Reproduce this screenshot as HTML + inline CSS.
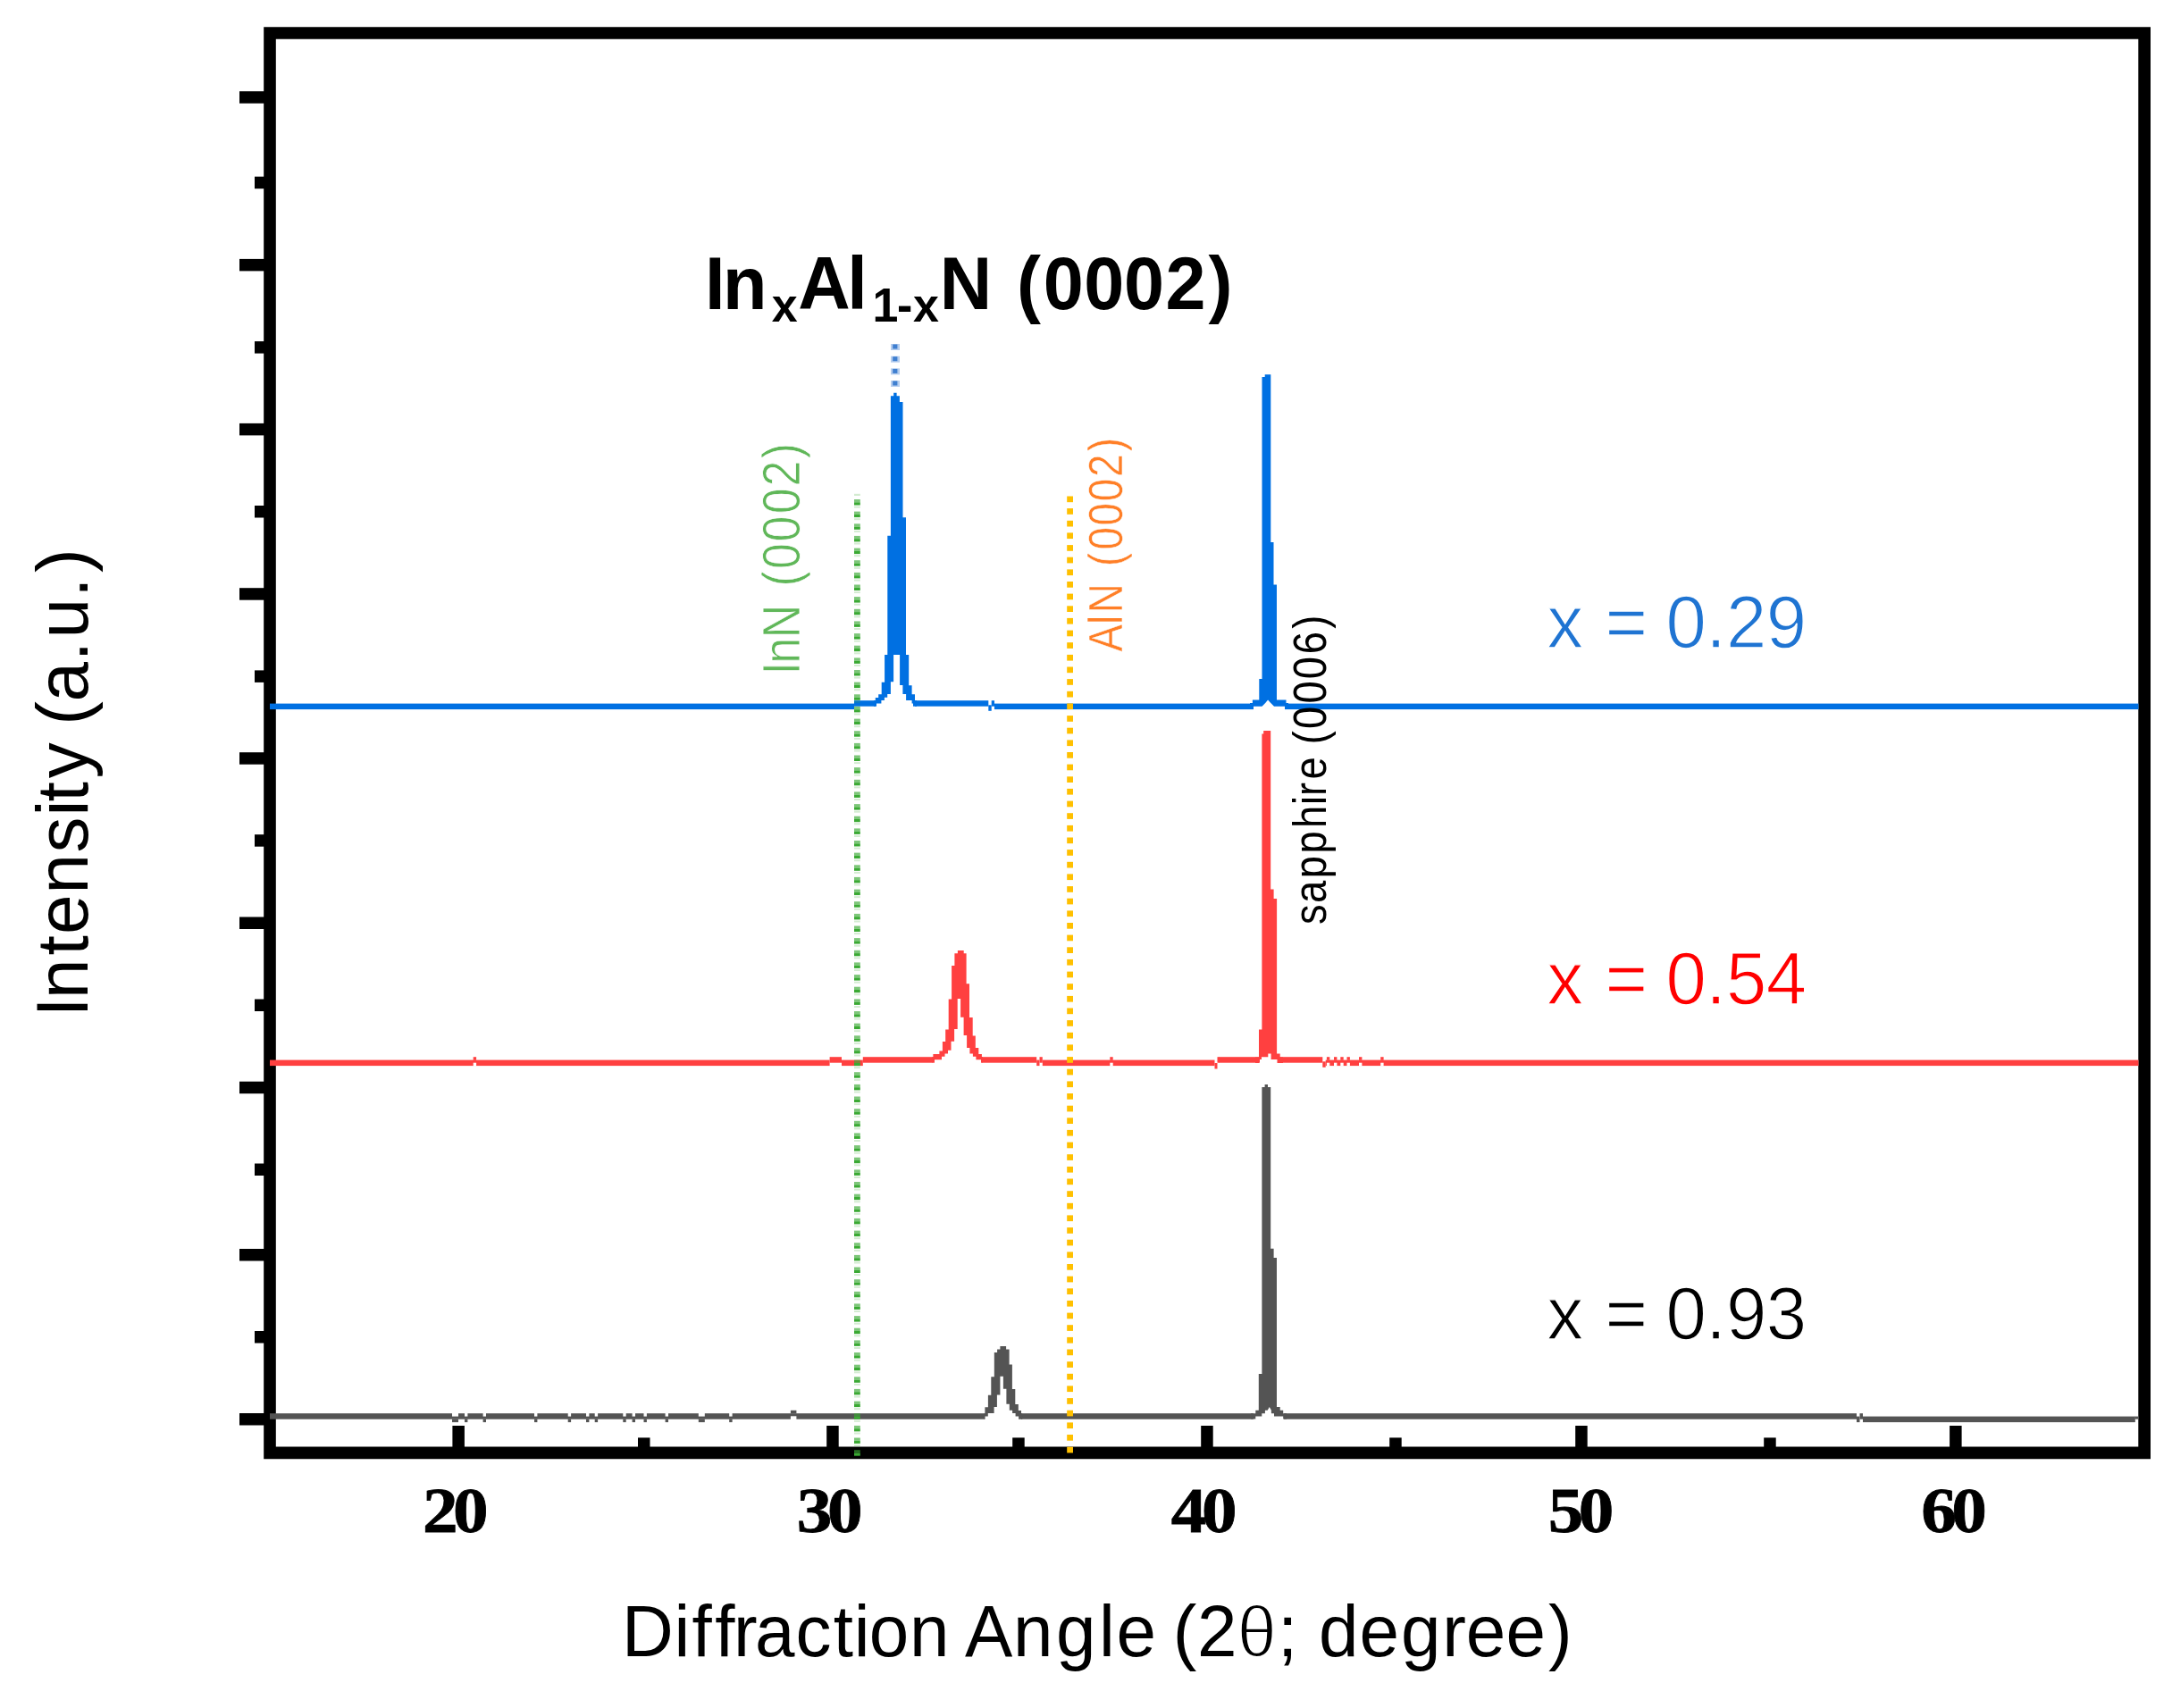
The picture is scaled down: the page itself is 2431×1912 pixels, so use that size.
<!DOCTYPE html>
<html lang="en">
<head>
<meta charset="utf-8">
<title>XRD patterns of InxAl1-xN films</title>
<style>
html,body{margin:0;padding:0;background:#fff;}
svg{display:block;}
</style>
</head>
<body>
<svg width="2431" height="1912" viewBox="0 0 2431 1912">
<rect x="0" y="0" width="2431" height="1912" fill="#fff"/>
<path fill="#000" fill-rule="evenodd" d="M295.2 30.2H2407V1633.3H295.2ZM308.8 43.8H2393.3V1619.6H308.8Z"/>
<rect x="268" y="102.2" width="28.2" height="13.5" fill="#000"/>
<rect x="285" y="197.7" width="11.2" height="13.5" fill="#000"/>
<rect x="268" y="289.9" width="28.2" height="13.5" fill="#000"/>
<rect x="285" y="382.1" width="11.2" height="13.5" fill="#000"/>
<rect x="268" y="473.9" width="28.2" height="13.5" fill="#000"/>
<rect x="285" y="566" width="11.2" height="13.5" fill="#000"/>
<rect x="268" y="658.2" width="28.2" height="13.5" fill="#000"/>
<rect x="285" y="750.4" width="11.2" height="13.5" fill="#000"/>
<rect x="268" y="842.2" width="28.2" height="13.5" fill="#000"/>
<rect x="285" y="934.2" width="11.2" height="13.5" fill="#000"/>
<rect x="268" y="1026.5" width="28.2" height="13.5" fill="#000"/>
<rect x="285" y="1118.5" width="11.2" height="13.5" fill="#000"/>
<rect x="268" y="1210.7" width="28.2" height="13.5" fill="#000"/>
<rect x="285" y="1302.5" width="11.2" height="13.5" fill="#000"/>
<rect x="268" y="1398" width="28.2" height="13.5" fill="#000"/>
<rect x="285" y="1490" width="11.2" height="13.5" fill="#000"/>
<rect x="268" y="1582" width="28.2" height="13.5" fill="#000"/>
<rect x="506.4" y="1596" width="13.5" height="24.6" fill="#000"/>
<rect x="714" y="1609.4" width="13.5" height="11.2" fill="#000"/>
<rect x="925.2" y="1596" width="13.5" height="24.6" fill="#000"/>
<rect x="1133.2" y="1609.4" width="13.5" height="11.2" fill="#000"/>
<rect x="1344.2" y="1596" width="13.5" height="24.6" fill="#000"/>
<rect x="1555.2" y="1609.4" width="13.5" height="11.2" fill="#000"/>
<rect x="1763.2" y="1596" width="13.5" height="24.6" fill="#000"/>
<rect x="1974.2" y="1609.4" width="13.5" height="11.2" fill="#000"/>
<rect x="2182.1" y="1596" width="13.5" height="24.6" fill="#000"/>
<rect x="302" y="1582.2" width="800.5" height="6.5" fill="#545454"/>
<rect x="1143" y="1582.2" width="260" height="6.5" fill="#545454"/>
<rect x="1437" y="1582.2" width="641" height="6.5" fill="#545454"/>
<rect x="2078" y="1585.6" width="3.5" height="6.5" fill="#545454"/>
<rect x="2081.5" y="1582.2" width="3.5" height="6.5" fill="#545454"/>
<rect x="2085" y="1585.6" width="304.8" height="6.5" fill="#545454"/>
<rect x="2389.5" y="1585.6" width="4" height="3" fill="#545454"/>
<rect x="506" y="1581.7" width="7" height="3.9" fill="#fff"/>
<rect x="506" y="1588.5" width="7" height="3.6" fill="#545454"/>
<rect x="520" y="1581.7" width="3.4" height="3.9" fill="#fff"/>
<rect x="520" y="1588.5" width="3.4" height="3.6" fill="#545454"/>
<rect x="540.6" y="1581.7" width="3.4" height="3.9" fill="#fff"/>
<rect x="540.6" y="1588.5" width="3.4" height="3.6" fill="#545454"/>
<rect x="598" y="1581.7" width="3.4" height="3.9" fill="#fff"/>
<rect x="598" y="1588.5" width="3.4" height="3.6" fill="#545454"/>
<rect x="635.7" y="1581.7" width="3.4" height="3.9" fill="#fff"/>
<rect x="635.7" y="1588.5" width="3.4" height="3.6" fill="#545454"/>
<rect x="656" y="1581.7" width="3.4" height="3.9" fill="#fff"/>
<rect x="656" y="1588.5" width="3.4" height="3.6" fill="#545454"/>
<rect x="665.7" y="1581.7" width="3.4" height="3.9" fill="#fff"/>
<rect x="665.7" y="1588.5" width="3.4" height="3.6" fill="#545454"/>
<rect x="697.3" y="1581.7" width="3.4" height="3.9" fill="#fff"/>
<rect x="697.3" y="1588.5" width="3.4" height="3.6" fill="#545454"/>
<rect x="707.6" y="1581.7" width="3.4" height="3.9" fill="#fff"/>
<rect x="707.6" y="1588.5" width="3.4" height="3.6" fill="#545454"/>
<rect x="720.5" y="1581.7" width="3.4" height="3.9" fill="#fff"/>
<rect x="720.5" y="1588.5" width="3.4" height="3.6" fill="#545454"/>
<rect x="744.6" y="1581.7" width="3.4" height="3.9" fill="#fff"/>
<rect x="744.6" y="1588.5" width="3.4" height="3.6" fill="#545454"/>
<rect x="781.8" y="1581.7" width="7" height="3.9" fill="#fff"/>
<rect x="781.8" y="1588.5" width="7" height="3.6" fill="#545454"/>
<rect x="816.2" y="1581.7" width="3.4" height="3.9" fill="#fff"/>
<rect x="816.2" y="1588.5" width="3.4" height="3.6" fill="#545454"/>
<rect x="884.9" y="1578.8" width="6.5" height="3.6" fill="#545454"/>
<rect x="884.9" y="1585.3" width="6.5" height="3.9" fill="#fff"/>
<polygon fill="#545454" points="1101.5,1588.7 1101.5,1582.3 1102.4,1582.3 1102.4,1575.2 1105.9,1575.2 1105.9,1561.8 1109.3,1561.8 1109.3,1541.3 1112.8,1541.3 1112.8,1514 1116.1,1514 1116.1,1510.6 1119.4,1510.6 1119.4,1507.1 1126.1,1507.1 1126.1,1510.6 1129.6,1510.6 1129.6,1527.6 1132.9,1527.6 1132.9,1555 1136.3,1555 1136.3,1572.1 1139.8,1572.1 1139.8,1579 1143,1579 1143,1582.3 1144.2,1582.3 1144.2,1588.7 1140.1,1588.7 1140.1,1585.4 1136.6,1585.4 1136.6,1581.9 1133.1,1581.9 1133.1,1578.8 1129.8,1578.8 1129.8,1571.7 1126.4,1571.7 1126.4,1554.8 1122.9,1554.8 1122.9,1540.7 1119.4,1540.7 1119.4,1561.4 1115.9,1561.4 1115.9,1574.9 1112.6,1574.9 1112.6,1581.9 1105.8,1581.9 1105.8,1585.4 1102.1,1585.4 1102.1,1588.7"/>
<polygon fill="#545454" points="1400,1588.6 1400,1582.2 1405.3,1582.2 1405.3,1578.7 1408.8,1578.7 1408.8,1537.9 1412.4,1537.9 1412.4,1217.1 1415.6,1217.1 1415.6,1213.9 1419,1213.9 1419,1217.1 1422.2,1217.1 1422.2,1397.8 1425.6,1397.8 1425.6,1408 1429,1408 1429,1574.9 1432.7,1574.9 1432.7,1578.7 1436.2,1578.7 1436.2,1582.2 1440,1582.2 1440,1588.6 1436.2,1588.6 1436.2,1585.4 1426,1585.4 1426,1582.2 1422.9,1582.2 1422.9,1578.7 1420.8,1574.9 1418.7,1578.7 1415.9,1578.7 1415.9,1582.2 1412.3,1582.2 1412.3,1585.4 1405.3,1585.4 1405.3,1588.6"/>
<rect x="302" y="1186.6" width="626.6" height="6.5" fill="#ff4040"/>
<rect x="928.6" y="1183.2" width="13.4" height="6.5" fill="#ff4040"/>
<rect x="942" y="1186.6" width="23.8" height="6.5" fill="#ff4040"/>
<rect x="965.8" y="1183.2" width="80.2" height="6.5" fill="#ff4040"/>
<rect x="1098" y="1183.2" width="62.2" height="6.5" fill="#ff4040"/>
<rect x="1160.2" y="1186.6" width="3.3" height="6.5" fill="#ff4040"/>
<rect x="1163.5" y="1183.2" width="3.3" height="6.5" fill="#ff4040"/>
<rect x="1166.8" y="1186.6" width="192.7" height="6.5" fill="#ff4040"/>
<rect x="1359.5" y="1190" width="3" height="6.5" fill="#ff4040"/>
<rect x="1362.5" y="1183.2" width="2.5" height="6.5" fill="#ff4040"/>
<rect x="1364.5" y="1183.2" width="45.5" height="6.5" fill="#ff4040"/>
<rect x="1431" y="1183.2" width="49.3" height="6.5" fill="#ff4040"/>
<rect x="1480.3" y="1188.3" width="3.4" height="6.5" fill="#ff4040"/>
<rect x="1483.7" y="1186.6" width="909.8" height="6.5" fill="#ff4040"/>
<rect x="529.7" y="1183.2" width="3.4" height="3.6" fill="#ff4040"/>
<rect x="529.7" y="1189.7" width="3.4" height="3.9" fill="#fff"/>
<rect x="1242.3" y="1183.2" width="3.4" height="3.6" fill="#ff4040"/>
<rect x="1242.3" y="1189.7" width="3.4" height="3.9" fill="#fff"/>
<rect x="1484.9" y="1183.2" width="3.4" height="3.6" fill="#ff4040"/>
<rect x="1484.9" y="1189.7" width="3.4" height="3.9" fill="#fff"/>
<rect x="1493" y="1183.2" width="3.4" height="3.6" fill="#ff4040"/>
<rect x="1493" y="1189.7" width="3.4" height="3.9" fill="#fff"/>
<rect x="1500.3" y="1183.2" width="3.4" height="3.6" fill="#ff4040"/>
<rect x="1500.3" y="1189.7" width="3.4" height="3.9" fill="#fff"/>
<rect x="1507.5" y="1183.2" width="3.4" height="3.6" fill="#ff4040"/>
<rect x="1507.5" y="1189.7" width="3.4" height="3.9" fill="#fff"/>
<rect x="1521" y="1183.2" width="3.4" height="3.6" fill="#ff4040"/>
<rect x="1521" y="1189.7" width="3.4" height="3.9" fill="#fff"/>
<rect x="1545.2" y="1183.2" width="3.4" height="3.6" fill="#ff4040"/>
<rect x="1545.2" y="1189.7" width="3.4" height="3.9" fill="#fff"/>
<polygon fill="#ff4040" points="1043.2,1189.6 1043.2,1183.2 1044.4,1183.2 1044.4,1179.9 1051.4,1179.9 1051.4,1176.4 1054.9,1176.4 1054.9,1166.1 1058.2,1166.1 1058.2,1152.4 1061.7,1152.4 1061.7,1118.4 1065.1,1118.4 1065.1,1080.9 1068.4,1080.9 1068.4,1067.2 1071.9,1067.2 1071.9,1064 1078.7,1064 1078.7,1067.2 1081.6,1067.2 1081.6,1101.2 1085,1101.2 1085,1138.9 1088.7,1138.9 1088.7,1159.4 1091.8,1159.4 1091.8,1173.1 1095.3,1173.1 1095.3,1179.9 1098.9,1179.9 1098.9,1183.2 1100,1183.2 1100,1189.6 1099.2,1189.6 1099.2,1186.3 1092.4,1186.3 1092.4,1182.8 1088.9,1182.8 1088.9,1179.6 1085.4,1179.6 1085.4,1172.9 1082.1,1172.9 1082.1,1159 1078.6,1159 1078.6,1138.7 1075.1,1138.7 1075.1,1118.1 1071.7,1118.1 1071.7,1152 1068.1,1152 1068.1,1165.8 1064.5,1165.8 1064.5,1175.8 1061,1175.8 1061,1179.6 1057.5,1179.6 1057.5,1182.8 1054,1182.8 1054,1186.3 1044.2,1186.3 1044.2,1189.6"/>
<polygon fill="#ff4040" points="1405,1189.9 1405,1183.4 1409,1183.4 1409,1152.4 1412.4,1152.4 1412.4,821.5 1414.2,821.5 1414.2,818 1422.2,818 1422.2,995.4 1425.6,995.4 1425.6,1006.1 1429.1,1006.1 1429.1,1179.5 1432.7,1179.5 1432.7,1183.4 1436,1183.4 1436,1189.9 1429.5,1189.9 1429.5,1186.1 1422.6,1186.1 1422.6,1179.5 1419.3,1179.5 1419.3,1183.2 1412,1183.2 1412,1186.1 1409,1186.1 1409,1189.9"/>
<rect x="302" y="787.6" width="654" height="6.5" fill="#0070e2"/>
<rect x="956" y="784.2" width="25" height="6.5" fill="#0070e2"/>
<rect x="1022" y="784.2" width="84.3" height="6.5" fill="#0070e2"/>
<rect x="1106.3" y="789.3" width="3.4" height="6.5" fill="#0070e2"/>
<rect x="1109.7" y="784.2" width="3.3" height="6.5" fill="#0070e2"/>
<rect x="1113" y="787.6" width="290" height="6.5" fill="#0070e2"/>
<rect x="1438" y="787.6" width="955.5" height="6.5" fill="#0070e2"/>
<polygon fill="#0070e2" points="978,790.7 978,784.1 979.8,784.1 979.8,780.9 983.2,780.9 983.2,777.2 986.7,777.2 986.7,763.8 990.1,763.8 990.1,733 993.3,733 993.3,599.8 996.9,599.8 996.9,443.3 1000.2,443.3 1000.2,439.7 1003.6,439.7 1003.6,443.3 1006.9,443.3 1006.9,450 1010.5,450 1010.5,579.3 1014,579.3 1014,733 1017.2,733 1017.2,767.2 1020.6,767.2 1020.6,777.2 1024,777.2 1024,784.1 1026,784.1 1026,790.7 1024,790.7 1024,787.4 1020.6,787.4 1020.6,783.9 1014.1,783.9 1014.1,777 1010.4,777 1010.4,767 1007.1,767 1007.1,733 1000.1,733 1000.1,763.3 996.9,763.3 996.9,777 993.2,777 993.2,780.7 989.9,780.7 989.9,784.1 986.4,784.1 986.4,787.4 979.8,787.4 979.8,790.7"/>
<polygon fill="#0070e2" points="1399,793.5 1399,787.1 1401.9,787.1 1401.9,783.4 1409.3,783.4 1409.3,760 1412.5,760 1412.5,422.1 1415.7,422.1 1415.7,419.2 1422.3,419.2 1422.3,606.9 1425.5,606.9 1425.5,654.4 1429,654.4 1429,783.4 1439.5,783.4 1439.5,787.1 1442,787.1 1442,793.5 1439.5,793.5 1439.5,790.8 1426,790.8 1422.3,787.1 1419.1,783.4 1416.2,787.1 1412.5,790.8 1401.9,790.8 1401.9,793.5"/>
<rect x="956" y="559" width="6.8" height="3.3" fill="#3aa933" fill-opacity="0.66"/>
<rect x="956" y="562.3" width="6.8" height="3.2" fill="#3aa933"/>
<rect x="956" y="566.6" width="6.8" height="2" fill="#3aa933" fill-opacity="0.22"/>
<rect x="956" y="572.6" width="6.8" height="3.3" fill="#3aa933" fill-opacity="0.66"/>
<rect x="956" y="575.9" width="6.8" height="3.2" fill="#3aa933"/>
<rect x="956" y="580.2" width="6.8" height="2" fill="#3aa933" fill-opacity="0.22"/>
<rect x="956" y="586.3" width="6.8" height="3.3" fill="#3aa933" fill-opacity="0.66"/>
<rect x="956" y="589.6" width="6.8" height="3.2" fill="#3aa933"/>
<rect x="956" y="593.9" width="6.8" height="2" fill="#3aa933" fill-opacity="0.22"/>
<rect x="956" y="599.9" width="6.8" height="3.3" fill="#3aa933" fill-opacity="0.66"/>
<rect x="956" y="603.2" width="6.8" height="3.2" fill="#3aa933"/>
<rect x="956" y="607.5" width="6.8" height="2" fill="#3aa933" fill-opacity="0.22"/>
<rect x="956" y="613.6" width="6.8" height="3.3" fill="#3aa933" fill-opacity="0.66"/>
<rect x="956" y="616.9" width="6.8" height="3.2" fill="#3aa933"/>
<rect x="956" y="621.2" width="6.8" height="2" fill="#3aa933" fill-opacity="0.22"/>
<rect x="956" y="627.2" width="6.8" height="3.3" fill="#3aa933" fill-opacity="0.66"/>
<rect x="956" y="630.5" width="6.8" height="3.2" fill="#3aa933"/>
<rect x="956" y="634.8" width="6.8" height="2" fill="#3aa933" fill-opacity="0.22"/>
<rect x="956" y="640.9" width="6.8" height="3.3" fill="#3aa933" fill-opacity="0.66"/>
<rect x="956" y="644.2" width="6.8" height="3.2" fill="#3aa933"/>
<rect x="956" y="648.5" width="6.8" height="2" fill="#3aa933" fill-opacity="0.22"/>
<rect x="956" y="654.5" width="6.8" height="3.3" fill="#3aa933" fill-opacity="0.66"/>
<rect x="956" y="657.8" width="6.8" height="3.2" fill="#3aa933"/>
<rect x="956" y="662.1" width="6.8" height="2" fill="#3aa933" fill-opacity="0.22"/>
<rect x="956" y="668.1" width="6.8" height="3.3" fill="#3aa933" fill-opacity="0.66"/>
<rect x="956" y="671.4" width="6.8" height="3.2" fill="#3aa933"/>
<rect x="956" y="675.7" width="6.8" height="2" fill="#3aa933" fill-opacity="0.22"/>
<rect x="956" y="681.8" width="6.8" height="3.3" fill="#3aa933" fill-opacity="0.66"/>
<rect x="956" y="685.1" width="6.8" height="3.2" fill="#3aa933"/>
<rect x="956" y="689.4" width="6.8" height="2" fill="#3aa933" fill-opacity="0.22"/>
<rect x="956" y="695.4" width="6.8" height="3.3" fill="#3aa933" fill-opacity="0.66"/>
<rect x="956" y="698.7" width="6.8" height="3.2" fill="#3aa933"/>
<rect x="956" y="703" width="6.8" height="2" fill="#3aa933" fill-opacity="0.22"/>
<rect x="956" y="709.1" width="6.8" height="3.3" fill="#3aa933" fill-opacity="0.66"/>
<rect x="956" y="712.4" width="6.8" height="3.2" fill="#3aa933"/>
<rect x="956" y="716.7" width="6.8" height="2" fill="#3aa933" fill-opacity="0.22"/>
<rect x="956" y="722.7" width="6.8" height="3.3" fill="#3aa933" fill-opacity="0.66"/>
<rect x="956" y="726" width="6.8" height="3.2" fill="#3aa933"/>
<rect x="956" y="730.3" width="6.8" height="2" fill="#3aa933" fill-opacity="0.22"/>
<rect x="956" y="736.4" width="6.8" height="3.3" fill="#3aa933" fill-opacity="0.66"/>
<rect x="956" y="739.7" width="6.8" height="3.2" fill="#3aa933"/>
<rect x="956" y="744" width="6.8" height="2" fill="#3aa933" fill-opacity="0.22"/>
<rect x="956" y="750" width="6.8" height="3.3" fill="#3aa933" fill-opacity="0.66"/>
<rect x="956" y="753.3" width="6.8" height="3.2" fill="#3aa933"/>
<rect x="956" y="757.6" width="6.8" height="2" fill="#3aa933" fill-opacity="0.22"/>
<rect x="956" y="763.6" width="6.8" height="3.3" fill="#3aa933" fill-opacity="0.66"/>
<rect x="956" y="766.9" width="6.8" height="3.2" fill="#3aa933"/>
<rect x="956" y="771.2" width="6.8" height="2" fill="#3aa933" fill-opacity="0.22"/>
<rect x="956" y="777.3" width="6.8" height="3.3" fill="#3aa933" fill-opacity="0.66"/>
<rect x="956" y="780.6" width="6.8" height="3.2" fill="#3aa933"/>
<rect x="956" y="784.9" width="6.8" height="2" fill="#3aa933" fill-opacity="0.22"/>
<rect x="956" y="790.9" width="6.8" height="3.3" fill="#3aa933" fill-opacity="0.66"/>
<rect x="956" y="794.2" width="6.8" height="3.2" fill="#3aa933"/>
<rect x="956" y="798.5" width="6.8" height="2" fill="#3aa933" fill-opacity="0.22"/>
<rect x="956" y="804.6" width="6.8" height="3.3" fill="#3aa933" fill-opacity="0.66"/>
<rect x="956" y="807.9" width="6.8" height="3.2" fill="#3aa933"/>
<rect x="956" y="812.2" width="6.8" height="2" fill="#3aa933" fill-opacity="0.22"/>
<rect x="956" y="818.2" width="6.8" height="3.3" fill="#3aa933" fill-opacity="0.66"/>
<rect x="956" y="821.5" width="6.8" height="3.2" fill="#3aa933"/>
<rect x="956" y="825.8" width="6.8" height="2" fill="#3aa933" fill-opacity="0.22"/>
<rect x="956" y="831.9" width="6.8" height="3.3" fill="#3aa933" fill-opacity="0.66"/>
<rect x="956" y="835.2" width="6.8" height="3.2" fill="#3aa933"/>
<rect x="956" y="839.5" width="6.8" height="2" fill="#3aa933" fill-opacity="0.22"/>
<rect x="956" y="845.5" width="6.8" height="3.3" fill="#3aa933" fill-opacity="0.66"/>
<rect x="956" y="848.8" width="6.8" height="3.2" fill="#3aa933"/>
<rect x="956" y="853.1" width="6.8" height="2" fill="#3aa933" fill-opacity="0.22"/>
<rect x="956" y="859.1" width="6.8" height="3.3" fill="#3aa933" fill-opacity="0.66"/>
<rect x="956" y="862.4" width="6.8" height="3.2" fill="#3aa933"/>
<rect x="956" y="866.7" width="6.8" height="2" fill="#3aa933" fill-opacity="0.22"/>
<rect x="956" y="872.8" width="6.8" height="3.3" fill="#3aa933" fill-opacity="0.66"/>
<rect x="956" y="876.1" width="6.8" height="3.2" fill="#3aa933"/>
<rect x="956" y="880.4" width="6.8" height="2" fill="#3aa933" fill-opacity="0.22"/>
<rect x="956" y="886.4" width="6.8" height="3.3" fill="#3aa933" fill-opacity="0.66"/>
<rect x="956" y="889.7" width="6.8" height="3.2" fill="#3aa933"/>
<rect x="956" y="894" width="6.8" height="2" fill="#3aa933" fill-opacity="0.22"/>
<rect x="956" y="900.1" width="6.8" height="3.3" fill="#3aa933" fill-opacity="0.66"/>
<rect x="956" y="903.4" width="6.8" height="3.2" fill="#3aa933"/>
<rect x="956" y="907.7" width="6.8" height="2" fill="#3aa933" fill-opacity="0.22"/>
<rect x="956" y="913.7" width="6.8" height="3.3" fill="#3aa933" fill-opacity="0.66"/>
<rect x="956" y="917" width="6.8" height="3.2" fill="#3aa933"/>
<rect x="956" y="921.3" width="6.8" height="2" fill="#3aa933" fill-opacity="0.22"/>
<rect x="956" y="927.4" width="6.8" height="3.3" fill="#3aa933" fill-opacity="0.66"/>
<rect x="956" y="930.7" width="6.8" height="3.2" fill="#3aa933"/>
<rect x="956" y="935" width="6.8" height="2" fill="#3aa933" fill-opacity="0.22"/>
<rect x="956" y="941" width="6.8" height="3.3" fill="#3aa933" fill-opacity="0.66"/>
<rect x="956" y="944.3" width="6.8" height="3.2" fill="#3aa933"/>
<rect x="956" y="948.6" width="6.8" height="2" fill="#3aa933" fill-opacity="0.22"/>
<rect x="956" y="954.6" width="6.8" height="3.3" fill="#3aa933" fill-opacity="0.66"/>
<rect x="956" y="957.9" width="6.8" height="3.2" fill="#3aa933"/>
<rect x="956" y="962.2" width="6.8" height="2" fill="#3aa933" fill-opacity="0.22"/>
<rect x="956" y="968.3" width="6.8" height="3.3" fill="#3aa933" fill-opacity="0.66"/>
<rect x="956" y="971.6" width="6.8" height="3.2" fill="#3aa933"/>
<rect x="956" y="975.9" width="6.8" height="2" fill="#3aa933" fill-opacity="0.22"/>
<rect x="956" y="981.9" width="6.8" height="3.3" fill="#3aa933" fill-opacity="0.66"/>
<rect x="956" y="985.2" width="6.8" height="3.2" fill="#3aa933"/>
<rect x="956" y="989.5" width="6.8" height="2" fill="#3aa933" fill-opacity="0.22"/>
<rect x="956" y="995.6" width="6.8" height="3.3" fill="#3aa933" fill-opacity="0.66"/>
<rect x="956" y="998.9" width="6.8" height="3.2" fill="#3aa933"/>
<rect x="956" y="1003.2" width="6.8" height="2" fill="#3aa933" fill-opacity="0.22"/>
<rect x="956" y="1009.2" width="6.8" height="3.3" fill="#3aa933" fill-opacity="0.66"/>
<rect x="956" y="1012.5" width="6.8" height="3.2" fill="#3aa933"/>
<rect x="956" y="1016.8" width="6.8" height="2" fill="#3aa933" fill-opacity="0.22"/>
<rect x="956" y="1022.9" width="6.8" height="3.3" fill="#3aa933" fill-opacity="0.66"/>
<rect x="956" y="1026.2" width="6.8" height="3.2" fill="#3aa933"/>
<rect x="956" y="1030.5" width="6.8" height="2" fill="#3aa933" fill-opacity="0.22"/>
<rect x="956" y="1036.5" width="6.8" height="3.3" fill="#3aa933" fill-opacity="0.66"/>
<rect x="956" y="1039.8" width="6.8" height="3.2" fill="#3aa933"/>
<rect x="956" y="1044.1" width="6.8" height="2" fill="#3aa933" fill-opacity="0.22"/>
<rect x="956" y="1050.1" width="6.8" height="3.3" fill="#3aa933" fill-opacity="0.66"/>
<rect x="956" y="1053.4" width="6.8" height="3.2" fill="#3aa933"/>
<rect x="956" y="1057.7" width="6.8" height="2" fill="#3aa933" fill-opacity="0.22"/>
<rect x="956" y="1063.8" width="6.8" height="3.3" fill="#3aa933" fill-opacity="0.66"/>
<rect x="956" y="1067.1" width="6.8" height="3.2" fill="#3aa933"/>
<rect x="956" y="1071.4" width="6.8" height="2" fill="#3aa933" fill-opacity="0.22"/>
<rect x="956" y="1077.4" width="6.8" height="3.3" fill="#3aa933" fill-opacity="0.66"/>
<rect x="956" y="1080.7" width="6.8" height="3.2" fill="#3aa933"/>
<rect x="956" y="1085" width="6.8" height="2" fill="#3aa933" fill-opacity="0.22"/>
<rect x="956" y="1091.1" width="6.8" height="3.3" fill="#3aa933" fill-opacity="0.66"/>
<rect x="956" y="1094.4" width="6.8" height="3.2" fill="#3aa933"/>
<rect x="956" y="1098.7" width="6.8" height="2" fill="#3aa933" fill-opacity="0.22"/>
<rect x="956" y="1104.7" width="6.8" height="3.3" fill="#3aa933" fill-opacity="0.66"/>
<rect x="956" y="1108" width="6.8" height="3.2" fill="#3aa933"/>
<rect x="956" y="1112.3" width="6.8" height="2" fill="#3aa933" fill-opacity="0.22"/>
<rect x="956" y="1118.4" width="6.8" height="3.3" fill="#3aa933" fill-opacity="0.66"/>
<rect x="956" y="1121.7" width="6.8" height="3.2" fill="#3aa933"/>
<rect x="956" y="1126" width="6.8" height="2" fill="#3aa933" fill-opacity="0.22"/>
<rect x="956" y="1132" width="6.8" height="3.3" fill="#3aa933" fill-opacity="0.66"/>
<rect x="956" y="1135.3" width="6.8" height="3.2" fill="#3aa933"/>
<rect x="956" y="1139.6" width="6.8" height="2" fill="#3aa933" fill-opacity="0.22"/>
<rect x="956" y="1145.6" width="6.8" height="3.3" fill="#3aa933" fill-opacity="0.66"/>
<rect x="956" y="1148.9" width="6.8" height="3.2" fill="#3aa933"/>
<rect x="956" y="1153.2" width="6.8" height="2" fill="#3aa933" fill-opacity="0.22"/>
<rect x="956" y="1159.3" width="6.8" height="3.3" fill="#3aa933" fill-opacity="0.66"/>
<rect x="956" y="1162.6" width="6.8" height="3.2" fill="#3aa933"/>
<rect x="956" y="1166.9" width="6.8" height="2" fill="#3aa933" fill-opacity="0.22"/>
<rect x="956" y="1172.9" width="6.8" height="3.3" fill="#3aa933" fill-opacity="0.66"/>
<rect x="956" y="1176.2" width="6.8" height="3.2" fill="#3aa933"/>
<rect x="956" y="1180.5" width="6.8" height="2" fill="#3aa933" fill-opacity="0.22"/>
<rect x="956" y="1186.6" width="6.8" height="3.3" fill="#3aa933" fill-opacity="0.66"/>
<rect x="956" y="1189.9" width="6.8" height="3.2" fill="#3aa933"/>
<rect x="956" y="1194.2" width="6.8" height="2" fill="#3aa933" fill-opacity="0.22"/>
<rect x="956" y="1200.2" width="6.8" height="3.3" fill="#3aa933" fill-opacity="0.66"/>
<rect x="956" y="1203.5" width="6.8" height="3.2" fill="#3aa933"/>
<rect x="956" y="1207.8" width="6.8" height="2" fill="#3aa933" fill-opacity="0.22"/>
<rect x="956" y="1213.9" width="6.8" height="3.3" fill="#3aa933" fill-opacity="0.66"/>
<rect x="956" y="1217.2" width="6.8" height="3.2" fill="#3aa933"/>
<rect x="956" y="1221.5" width="6.8" height="2" fill="#3aa933" fill-opacity="0.22"/>
<rect x="956" y="1227.5" width="6.8" height="3.3" fill="#3aa933" fill-opacity="0.66"/>
<rect x="956" y="1230.8" width="6.8" height="3.2" fill="#3aa933"/>
<rect x="956" y="1235.1" width="6.8" height="2" fill="#3aa933" fill-opacity="0.22"/>
<rect x="956" y="1241.2" width="6.8" height="3.3" fill="#3aa933" fill-opacity="0.66"/>
<rect x="956" y="1244.5" width="6.8" height="3.2" fill="#3aa933"/>
<rect x="956" y="1248.8" width="6.8" height="2" fill="#3aa933" fill-opacity="0.22"/>
<rect x="956" y="1254.8" width="6.8" height="3.3" fill="#3aa933" fill-opacity="0.66"/>
<rect x="956" y="1258.1" width="6.8" height="3.2" fill="#3aa933"/>
<rect x="956" y="1262.4" width="6.8" height="2" fill="#3aa933" fill-opacity="0.22"/>
<rect x="956" y="1268.4" width="6.8" height="3.3" fill="#3aa933" fill-opacity="0.66"/>
<rect x="956" y="1271.7" width="6.8" height="3.2" fill="#3aa933"/>
<rect x="956" y="1276" width="6.8" height="2" fill="#3aa933" fill-opacity="0.22"/>
<rect x="956" y="1282.1" width="6.8" height="3.3" fill="#3aa933" fill-opacity="0.66"/>
<rect x="956" y="1285.4" width="6.8" height="3.2" fill="#3aa933"/>
<rect x="956" y="1289.7" width="6.8" height="2" fill="#3aa933" fill-opacity="0.22"/>
<rect x="956" y="1295.7" width="6.8" height="3.3" fill="#3aa933" fill-opacity="0.66"/>
<rect x="956" y="1299" width="6.8" height="3.2" fill="#3aa933"/>
<rect x="956" y="1303.3" width="6.8" height="2" fill="#3aa933" fill-opacity="0.22"/>
<rect x="956" y="1309.4" width="6.8" height="3.3" fill="#3aa933" fill-opacity="0.66"/>
<rect x="956" y="1312.7" width="6.8" height="3.2" fill="#3aa933"/>
<rect x="956" y="1317" width="6.8" height="2" fill="#3aa933" fill-opacity="0.22"/>
<rect x="956" y="1323" width="6.8" height="3.3" fill="#3aa933" fill-opacity="0.66"/>
<rect x="956" y="1326.3" width="6.8" height="3.2" fill="#3aa933"/>
<rect x="956" y="1330.6" width="6.8" height="2" fill="#3aa933" fill-opacity="0.22"/>
<rect x="956" y="1336.7" width="6.8" height="3.3" fill="#3aa933" fill-opacity="0.66"/>
<rect x="956" y="1340" width="6.8" height="3.2" fill="#3aa933"/>
<rect x="956" y="1344.3" width="6.8" height="2" fill="#3aa933" fill-opacity="0.22"/>
<rect x="956" y="1350.3" width="6.8" height="3.3" fill="#3aa933" fill-opacity="0.66"/>
<rect x="956" y="1353.6" width="6.8" height="3.2" fill="#3aa933"/>
<rect x="956" y="1357.9" width="6.8" height="2" fill="#3aa933" fill-opacity="0.22"/>
<rect x="956" y="1363.9" width="6.8" height="3.3" fill="#3aa933" fill-opacity="0.66"/>
<rect x="956" y="1367.2" width="6.8" height="3.2" fill="#3aa933"/>
<rect x="956" y="1371.5" width="6.8" height="2" fill="#3aa933" fill-opacity="0.22"/>
<rect x="956" y="1377.6" width="6.8" height="3.3" fill="#3aa933" fill-opacity="0.66"/>
<rect x="956" y="1380.9" width="6.8" height="3.2" fill="#3aa933"/>
<rect x="956" y="1385.2" width="6.8" height="2" fill="#3aa933" fill-opacity="0.22"/>
<rect x="956" y="1391.2" width="6.8" height="3.3" fill="#3aa933" fill-opacity="0.66"/>
<rect x="956" y="1394.5" width="6.8" height="3.2" fill="#3aa933"/>
<rect x="956" y="1398.8" width="6.8" height="2" fill="#3aa933" fill-opacity="0.22"/>
<rect x="956" y="1404.9" width="6.8" height="3.3" fill="#3aa933" fill-opacity="0.66"/>
<rect x="956" y="1408.2" width="6.8" height="3.2" fill="#3aa933"/>
<rect x="956" y="1412.5" width="6.8" height="2" fill="#3aa933" fill-opacity="0.22"/>
<rect x="956" y="1418.5" width="6.8" height="3.3" fill="#3aa933" fill-opacity="0.66"/>
<rect x="956" y="1421.8" width="6.8" height="3.2" fill="#3aa933"/>
<rect x="956" y="1426.1" width="6.8" height="2" fill="#3aa933" fill-opacity="0.22"/>
<rect x="956" y="1432.2" width="6.8" height="3.3" fill="#3aa933" fill-opacity="0.66"/>
<rect x="956" y="1435.5" width="6.8" height="3.2" fill="#3aa933"/>
<rect x="956" y="1439.8" width="6.8" height="2" fill="#3aa933" fill-opacity="0.22"/>
<rect x="956" y="1445.8" width="6.8" height="3.3" fill="#3aa933" fill-opacity="0.66"/>
<rect x="956" y="1449.1" width="6.8" height="3.2" fill="#3aa933"/>
<rect x="956" y="1453.4" width="6.8" height="2" fill="#3aa933" fill-opacity="0.22"/>
<rect x="956" y="1459.4" width="6.8" height="3.3" fill="#3aa933" fill-opacity="0.66"/>
<rect x="956" y="1462.7" width="6.8" height="3.2" fill="#3aa933"/>
<rect x="956" y="1467" width="6.8" height="2" fill="#3aa933" fill-opacity="0.22"/>
<rect x="956" y="1473.1" width="6.8" height="3.3" fill="#3aa933" fill-opacity="0.66"/>
<rect x="956" y="1476.4" width="6.8" height="3.2" fill="#3aa933"/>
<rect x="956" y="1480.7" width="6.8" height="2" fill="#3aa933" fill-opacity="0.22"/>
<rect x="956" y="1486.7" width="6.8" height="3.3" fill="#3aa933" fill-opacity="0.66"/>
<rect x="956" y="1490" width="6.8" height="3.2" fill="#3aa933"/>
<rect x="956" y="1494.3" width="6.8" height="2" fill="#3aa933" fill-opacity="0.22"/>
<rect x="956" y="1500.4" width="6.8" height="3.3" fill="#3aa933" fill-opacity="0.66"/>
<rect x="956" y="1503.7" width="6.8" height="3.2" fill="#3aa933"/>
<rect x="956" y="1508" width="6.8" height="2" fill="#3aa933" fill-opacity="0.22"/>
<rect x="956" y="1514" width="6.8" height="3.3" fill="#3aa933" fill-opacity="0.66"/>
<rect x="956" y="1517.3" width="6.8" height="3.2" fill="#3aa933"/>
<rect x="956" y="1521.6" width="6.8" height="2" fill="#3aa933" fill-opacity="0.22"/>
<rect x="956" y="1527.7" width="6.8" height="3.3" fill="#3aa933" fill-opacity="0.66"/>
<rect x="956" y="1531" width="6.8" height="3.2" fill="#3aa933"/>
<rect x="956" y="1535.3" width="6.8" height="2" fill="#3aa933" fill-opacity="0.22"/>
<rect x="956" y="1541.3" width="6.8" height="3.3" fill="#3aa933" fill-opacity="0.66"/>
<rect x="956" y="1544.6" width="6.8" height="3.2" fill="#3aa933"/>
<rect x="956" y="1548.9" width="6.8" height="2" fill="#3aa933" fill-opacity="0.22"/>
<rect x="956" y="1554.9" width="6.8" height="3.3" fill="#3aa933" fill-opacity="0.66"/>
<rect x="956" y="1558.2" width="6.8" height="3.2" fill="#3aa933"/>
<rect x="956" y="1562.5" width="6.8" height="2" fill="#3aa933" fill-opacity="0.22"/>
<rect x="956" y="1568.6" width="6.8" height="3.3" fill="#3aa933" fill-opacity="0.66"/>
<rect x="956" y="1571.9" width="6.8" height="3.2" fill="#3aa933"/>
<rect x="956" y="1576.2" width="6.8" height="2" fill="#3aa933" fill-opacity="0.22"/>
<rect x="956" y="1582.2" width="6.8" height="3.3" fill="#3aa933" fill-opacity="0.66"/>
<rect x="956" y="1585.5" width="6.8" height="3.2" fill="#3aa933"/>
<rect x="956" y="1589.8" width="6.8" height="2" fill="#3aa933" fill-opacity="0.22"/>
<rect x="956" y="1595.9" width="6.8" height="3.3" fill="#3aa933" fill-opacity="0.66"/>
<rect x="956" y="1599.2" width="6.8" height="3.2" fill="#3aa933"/>
<rect x="956" y="1603.5" width="6.8" height="2" fill="#3aa933" fill-opacity="0.22"/>
<rect x="956" y="1609.5" width="6.8" height="3.3" fill="#3aa933" fill-opacity="0.66"/>
<rect x="956" y="1612.8" width="6.8" height="3.2" fill="#3aa933"/>
<rect x="956" y="1617.1" width="6.8" height="2" fill="#3aa933" fill-opacity="0.22"/>
<rect x="956" y="1623.2" width="6.8" height="3.3" fill="#3aa933" fill-opacity="0.66"/>
<rect x="956" y="1626.5" width="6.8" height="3.2" fill="#3aa933"/>
<rect x="956" y="1630.8" width="6.8" height="0.2" fill="#3aa933" fill-opacity="0.22"/>
<rect x="956" y="552.8" width="6.8" height="2.2" fill="#d3ebd0"/>
<rect x="1194.2" y="555.5" width="6.8" height="6.7" fill="#ffc000"/>
<rect x="1194.2" y="569.1" width="6.8" height="6.7" fill="#ffc000"/>
<rect x="1194.2" y="582.8" width="6.8" height="6.7" fill="#ffc000"/>
<rect x="1194.2" y="596.4" width="6.8" height="6.7" fill="#ffc000"/>
<rect x="1194.2" y="610.1" width="6.8" height="6.7" fill="#ffc000"/>
<rect x="1194.2" y="623.7" width="6.8" height="6.7" fill="#ffc000"/>
<rect x="1194.2" y="637.4" width="6.8" height="6.7" fill="#ffc000"/>
<rect x="1194.2" y="651" width="6.8" height="6.7" fill="#ffc000"/>
<rect x="1194.2" y="664.6" width="6.8" height="6.7" fill="#ffc000"/>
<rect x="1194.2" y="678.3" width="6.8" height="6.7" fill="#ffc000"/>
<rect x="1194.2" y="691.9" width="6.8" height="6.7" fill="#ffc000"/>
<rect x="1194.2" y="705.6" width="6.8" height="6.7" fill="#ffc000"/>
<rect x="1194.2" y="719.2" width="6.8" height="6.7" fill="#ffc000"/>
<rect x="1194.2" y="732.9" width="6.8" height="6.7" fill="#ffc000"/>
<rect x="1194.2" y="746.5" width="6.8" height="6.7" fill="#ffc000"/>
<rect x="1194.2" y="760.1" width="6.8" height="6.7" fill="#ffc000"/>
<rect x="1194.2" y="773.8" width="6.8" height="6.7" fill="#ffc000"/>
<rect x="1194.2" y="787.4" width="6.8" height="6.7" fill="#ffc000"/>
<rect x="1194.2" y="801.1" width="6.8" height="6.7" fill="#ffc000"/>
<rect x="1194.2" y="814.7" width="6.8" height="6.7" fill="#ffc000"/>
<rect x="1194.2" y="828.4" width="6.8" height="6.7" fill="#ffc000"/>
<rect x="1194.2" y="842" width="6.8" height="6.7" fill="#ffc000"/>
<rect x="1194.2" y="855.6" width="6.8" height="6.7" fill="#ffc000"/>
<rect x="1194.2" y="869.3" width="6.8" height="6.7" fill="#ffc000"/>
<rect x="1194.2" y="882.9" width="6.8" height="6.7" fill="#ffc000"/>
<rect x="1194.2" y="896.6" width="6.8" height="6.7" fill="#ffc000"/>
<rect x="1194.2" y="910.2" width="6.8" height="6.7" fill="#ffc000"/>
<rect x="1194.2" y="923.9" width="6.8" height="6.7" fill="#ffc000"/>
<rect x="1194.2" y="937.5" width="6.8" height="6.7" fill="#ffc000"/>
<rect x="1194.2" y="951.1" width="6.8" height="6.7" fill="#ffc000"/>
<rect x="1194.2" y="964.8" width="6.8" height="6.7" fill="#ffc000"/>
<rect x="1194.2" y="978.4" width="6.8" height="6.7" fill="#ffc000"/>
<rect x="1194.2" y="992.1" width="6.8" height="6.7" fill="#ffc000"/>
<rect x="1194.2" y="1005.7" width="6.8" height="6.7" fill="#ffc000"/>
<rect x="1194.2" y="1019.4" width="6.8" height="6.7" fill="#ffc000"/>
<rect x="1194.2" y="1033" width="6.8" height="6.7" fill="#ffc000"/>
<rect x="1194.2" y="1046.6" width="6.8" height="6.7" fill="#ffc000"/>
<rect x="1194.2" y="1060.3" width="6.8" height="6.7" fill="#ffc000"/>
<rect x="1194.2" y="1073.9" width="6.8" height="6.7" fill="#ffc000"/>
<rect x="1194.2" y="1087.6" width="6.8" height="6.7" fill="#ffc000"/>
<rect x="1194.2" y="1101.2" width="6.8" height="6.7" fill="#ffc000"/>
<rect x="1194.2" y="1114.9" width="6.8" height="6.7" fill="#ffc000"/>
<rect x="1194.2" y="1128.5" width="6.8" height="6.7" fill="#ffc000"/>
<rect x="1194.2" y="1142.1" width="6.8" height="6.7" fill="#ffc000"/>
<rect x="1194.2" y="1155.8" width="6.8" height="6.7" fill="#ffc000"/>
<rect x="1194.2" y="1169.4" width="6.8" height="6.7" fill="#ffc000"/>
<rect x="1194.2" y="1183.1" width="6.8" height="6.7" fill="#ffc000"/>
<rect x="1194.2" y="1196.7" width="6.8" height="6.7" fill="#ffc000"/>
<rect x="1194.2" y="1210.4" width="6.8" height="6.7" fill="#ffc000"/>
<rect x="1194.2" y="1224" width="6.8" height="6.7" fill="#ffc000"/>
<rect x="1194.2" y="1237.7" width="6.8" height="6.7" fill="#ffc000"/>
<rect x="1194.2" y="1251.3" width="6.8" height="6.7" fill="#ffc000"/>
<rect x="1194.2" y="1264.9" width="6.8" height="6.7" fill="#ffc000"/>
<rect x="1194.2" y="1278.6" width="6.8" height="6.7" fill="#ffc000"/>
<rect x="1194.2" y="1292.2" width="6.8" height="6.7" fill="#ffc000"/>
<rect x="1194.2" y="1305.9" width="6.8" height="6.7" fill="#ffc000"/>
<rect x="1194.2" y="1319.5" width="6.8" height="6.7" fill="#ffc000"/>
<rect x="1194.2" y="1333.2" width="6.8" height="6.7" fill="#ffc000"/>
<rect x="1194.2" y="1346.8" width="6.8" height="6.7" fill="#ffc000"/>
<rect x="1194.2" y="1360.4" width="6.8" height="6.7" fill="#ffc000"/>
<rect x="1194.2" y="1374.1" width="6.8" height="6.7" fill="#ffc000"/>
<rect x="1194.2" y="1387.7" width="6.8" height="6.7" fill="#ffc000"/>
<rect x="1194.2" y="1401.4" width="6.8" height="6.7" fill="#ffc000"/>
<rect x="1194.2" y="1415" width="6.8" height="6.7" fill="#ffc000"/>
<rect x="1194.2" y="1428.7" width="6.8" height="6.7" fill="#ffc000"/>
<rect x="1194.2" y="1442.3" width="6.8" height="6.7" fill="#ffc000"/>
<rect x="1194.2" y="1455.9" width="6.8" height="6.7" fill="#ffc000"/>
<rect x="1194.2" y="1469.6" width="6.8" height="6.7" fill="#ffc000"/>
<rect x="1194.2" y="1483.2" width="6.8" height="6.7" fill="#ffc000"/>
<rect x="1194.2" y="1496.9" width="6.8" height="6.7" fill="#ffc000"/>
<rect x="1194.2" y="1510.5" width="6.8" height="6.7" fill="#ffc000"/>
<rect x="1194.2" y="1524.2" width="6.8" height="6.7" fill="#ffc000"/>
<rect x="1194.2" y="1537.8" width="6.8" height="6.7" fill="#ffc000"/>
<rect x="1194.2" y="1551.4" width="6.8" height="6.7" fill="#ffc000"/>
<rect x="1194.2" y="1565.1" width="6.8" height="6.7" fill="#ffc000"/>
<rect x="1194.2" y="1578.7" width="6.8" height="6.7" fill="#ffc000"/>
<rect x="1194.2" y="1592.4" width="6.8" height="6.7" fill="#ffc000"/>
<rect x="1194.2" y="1606" width="6.8" height="6.7" fill="#ffc000"/>
<rect x="1194.2" y="1619.7" width="6.8" height="6.7" fill="#ffc000"/>
<rect x="997" y="385" width="10" height="7" fill="#b5cdee"/>
<rect x="999.2" y="385.5" width="5.2" height="5" fill="#3f7fd0"/>
<rect x="997" y="398.7" width="10" height="7" fill="#b5cdee"/>
<rect x="999.2" y="399.2" width="5.2" height="5" fill="#3f7fd0"/>
<rect x="997" y="412.4" width="10" height="7" fill="#b5cdee"/>
<rect x="999.2" y="412.9" width="5.2" height="5" fill="#3f7fd0"/>
<rect x="997" y="426" width="10" height="7" fill="#b5cdee"/>
<rect x="999.2" y="426.5" width="5.2" height="5" fill="#3f7fd0"/>
<text transform="matrix(1 0 0 1.035 0 -12.1)" y="345.8" font-family="'Liberation Sans', Arial, sans-serif" font-weight="bold" font-size="81" fill="#000"><tspan x="789 809.1">In</tspan><tspan font-size="52" x="863.8" dy="14.2">x</tspan><tspan x="893.2 948.2" dy="-14.2">Al</tspan><tspan font-size="52" x="976.4 1004.1 1022" dy="14.2">1-x</tspan><tspan x="1051.8 1114.5 1138.1 1167.8 1213.2 1258.1 1304.6 1352.4" dy="-14.2">N (0002)</tspan></text>
<text transform="matrix(1 0 0 1.015 0 -10.9)" x="1731.6 1772 1796.6 1841.7 1864.4 1909.3 1931.9 1976.8" y="725.3" font-family="'Liberation Sans', Arial, sans-serif" font-size="81.5" fill="#1f74d2" stroke="#fff" stroke-width="1.3">x = 0.29</text>
<text transform="matrix(1 0 0 1.015 0 -16.9)" x="1731.6 1772 1796.6 1841.7 1864.4 1909.3 1931.9 1976.8" y="1124.5" font-family="'Liberation Sans', Arial, sans-serif" font-size="81.5" fill="#ff0000" stroke="#fff" stroke-width="1.3">x = 0.54</text>
<text transform="matrix(1 0 0 1.015 0 -22.5)" x="1731.6 1772 1796.6 1841.7 1864.4 1909.3 1931.9 1976.8" y="1499.2" font-family="'Liberation Sans', Arial, sans-serif" font-size="81.5" fill="#000" stroke="#fff" stroke-width="1.3">x = 0.93</text>
<text transform="matrix(1 0 0 1.015 0 -27.8)" y="1854" font-family="'Liberation Sans', Arial, sans-serif" font-size="80" fill="#000"><tspan x="696 754.6 774.5 800.3 820.9 845.1 890.4 932.7 955.7 972.8 1018.1 1063.4 1080 1134.1 1181.9 1230.1 1249.4 1290.5 1312.8 1340">Diffraction Angle (2</tspan><tspan x="1384.8" font-size="79" stroke="#fff" stroke-width="1.8">θ</tspan><tspan x="1430.1 1454.5 1476.1 1521.6 1568.1 1614.2 1640.8 1685.4 1732.9">; degree)</tspan></text>
<text transform="translate(97.7 1138.5) rotate(-90) scale(1 1.015)" x="0 20.4 69 92.4 138.1 184 224.9 241.1 267.2 308.4 326.8 353 398.2 424.1 469.7 497.6" font-family="'Liberation Sans', Arial, sans-serif" font-size="80" fill="#000">Intensity (a.u.)</text>
<text transform="translate(509.8 1715.1) scale(1.115 1)" x="-15.3 15.3" text-anchor="middle" font-family="'Liberation Serif', 'Times New Roman', serif" font-weight="bold" font-size="71" fill="#000" stroke="#000" stroke-width="0.8">20</text>
<text transform="translate(928.6 1715.1) scale(1.115 1)" x="-15.3 15.3" text-anchor="middle" font-family="'Liberation Serif', 'Times New Roman', serif" font-weight="bold" font-size="71" fill="#000" stroke="#000" stroke-width="0.8">30</text>
<text transform="translate(1347.6 1715.1) scale(1.115 1)" x="-15.3 15.3" text-anchor="middle" font-family="'Liberation Serif', 'Times New Roman', serif" font-weight="bold" font-size="71" fill="#000" stroke="#000" stroke-width="0.8">40</text>
<text transform="translate(1769.5 1715.1) scale(1.115 1)" x="-15.3 15.3" text-anchor="middle" font-family="'Liberation Serif', 'Times New Roman', serif" font-weight="bold" font-size="71" fill="#000" stroke="#000" stroke-width="0.8">50</text>
<text transform="translate(2187 1715.1) scale(1.115 1)" x="-15.3 15.3" text-anchor="middle" font-family="'Liberation Serif', 'Times New Roman', serif" font-weight="bold" font-size="71" fill="#000" stroke="#000" stroke-width="0.8">60</text>
<text transform="translate(895.2 754) rotate(-90) scale(0.9 1.04)" x="-1.7 12.5 44.1 76.2 108.4 130 164 198.5 232.7 267.5" font-family="'Liberation Sans', Arial, sans-serif" font-size="57.7" fill="#60b759" stroke="#fff" stroke-width="0.8">InN (0002)</text>
<text transform="translate(1255.7 730) rotate(-90) scale(0.88 1.045)" x="0.5 35.3 49.8 79.4 109.1 130 160.8 191.7 222.6 255.4" font-family="'Liberation Sans', Arial, sans-serif" font-size="52" fill="#ff7f27" stroke="#fff" stroke-width="0.5">AlN (0002)</text>
<text transform="translate(1483.7 1033.5) rotate(-90) scale(0.87 1)" x="-1.8 25.9 57.7 89.8 122.5 152.3 163.8 185 207.6 230.2 249.9 282.9 314.1 346.4 379.1" font-family="'Liberation Sans', Arial, sans-serif" font-size="52" fill="#000">sapphire (0006)</text>
</svg>
</body>
</html>
